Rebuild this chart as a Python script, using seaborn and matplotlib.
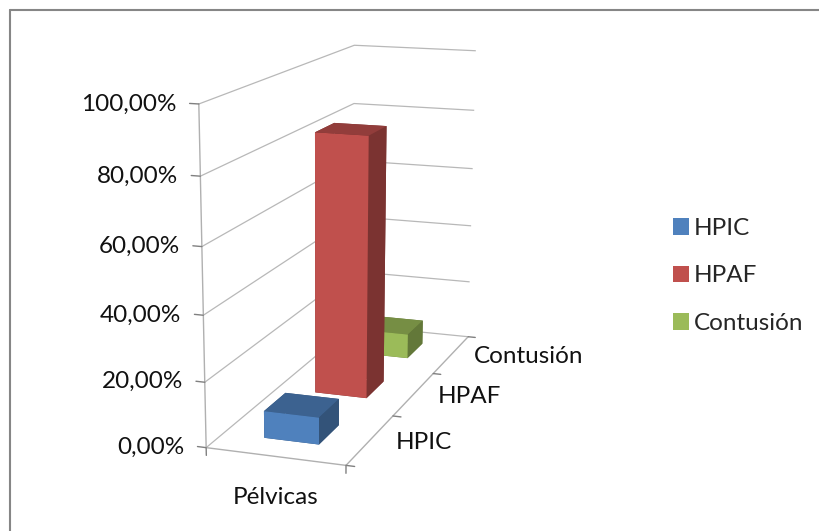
import numpy as np
import matplotlib
matplotlib.use("Agg")
import matplotlib.pyplot as plt
from matplotlib.lines import Line2D
from matplotlib.patches import Patch
from mpl_toolkits.mplot3d import Axes3D  # noqa: F401
import seaborn as sns

# Data
categories = ["Pélvicas"]
series = ["HPIC", "HPAF", "Contusión"]
values = [8.33, 83.33, 8.33]
value_ticks = [0, 20, 40, 60, 80, 100]
value_labels = ["0,00%", "20,00%", "40,00%", "60,00%", "80,00%", "100,00%"]

W, H = 820, 531
BAR_WIDTH = 0.4  # share of a category cell, on both floor directions
FONT = 17.5

sns.set_theme(style="white")
plt.rcParams["font.family"] = ["Lato", "DejaVu Sans"]
palette = sns.color_palette(["#4F81BD", "#C0504D", "#9BBB59"])


def shaded(color, factor):
    return tuple(c * factor for c in color)


# Camera: pixel positions of the chart box corners (x cell, depth cell, value)
frame = [
    ((0, 0, 0), (206, 447)),
    ((0, 0, 100), (199, 104)),
    ((0, 3, 0), (353, 326)),
    ((0, 3, 100), (354, 45)),
    ((1, 3, 0), (468, 336)),
    ((1, 3, 100), (476, 51)),
    ((1, 0, 0), (346, 466)),
]
rows = []
for (x, y, z), (u, v) in frame:
    v = H - v
    p = [x, y, z, 1]
    rows.append(p + [0, 0, 0, 0] + [-u * c for c in p])
    rows.append([0, 0, 0, 0] + p + [-v * c for c in p])
scale = np.diag([1, 1 / 3, 1 / 100, 1] * 3)
_, _, vt = np.linalg.svd(np.array(rows, float) @ scale)
camera = (scale @ vt[-1]).reshape(3, 4)
if camera[2] @ np.array([0.5, 1.5, 50, 1]) < 0:
    camera = -camera
projection = np.vstack([camera[0], camera[1], [0, 0, 0, -1], camera[2]])

fig = plt.figure(figsize=(W / 100, H / 100), dpi=100, facecolor="white")

# Chart outline: only the top and left edges fall inside the canvas
for xs, ys in (([10, W], [10, 10]), ([10, 10], [10, H])):
    fig.add_artist(Line2D([v / W for v in xs], [1 - v / H for v in ys],
                          transform=fig.transFigure, color="#868686", linewidth=1.5))

ax = fig.add_axes([0, 0, 1, 1], projection="3d")
ax.patch.set_alpha(0)
ax.get_proj = lambda: projection
ax.apply_aspect = lambda position=None: None

# One bar per series, each in its own depth cell
xpos = [0.5 - BAR_WIDTH / 2] * len(series)
ypos = [i + 0.5 - BAR_WIDTH / 2 for i in range(len(series))]
face_colors = []
for c in palette:
    top, side = shaded(c, 0.76), shaded(c, 0.64)
    # order used by bar3d: bottom, top, front, back, left, right
    face_colors += [side, top, c, side, side, side]
ax.bar3d(xpos, ypos, [0] * len(series), BAR_WIDTH, BAR_WIDTH, values,
         color=face_colors, shade=False, linewidth=0)

ax.set_xlim(0, 1)
ax.set_ylim(0, 3)
ax.set_zlim(0, 100)
ax.viewLim.intervalx = (0, W)
ax.viewLim.intervaly = (0, H)

# Axes and ticks
ax.set_xticks([0.5], categories)
ax.set_xticks([0, 1], minor=True)
ax.set_yticks([0.5, 1.5, 2.5], series)
ax.set_yticks([0, 1, 2, 3], minor=True)
ax.set_zticks(value_ticks, value_labels)
ax.zaxis.set_ticks_position("lower")

# Tick directions and label offsets: x down, y and z sideways only
ax.xaxis._get_tickdir = lambda position: 2
ax.zaxis._get_tickdir = lambda position: 0
ax.xaxis._axmask = lambda: [False, False, True]
ax.yaxis._axmask = lambda: [True, False, False]
ax.zaxis._axmask = lambda: [True, False, False]

for axis in (ax.xaxis, ax.yaxis, ax.zaxis):
    axis.set_pane_color((1, 1, 1, 0))
    axis.pane.set_edgecolor((1, 1, 1, 0))
    axis.line.set_color("#B0B0B0")
    axis.line.set_linewidth(1.0)
    axis._axinfo["tick"]["inward_factor"] = 0
    axis._axinfo["tick"]["linewidth"] = {True: 1.0, False: 1.0}
ax.xaxis._axinfo["tick"]["outward_factor"] = 0.3
ax.yaxis._axinfo["tick"]["outward_factor"] = -0.75
ax.zaxis._axinfo["tick"]["outward_factor"] = 0.8

ax.xaxis._axinfo["grid"]["linewidth"] = 0
ax.yaxis._axinfo["grid"]["linewidth"] = 0
ax.zaxis._axinfo["grid"].update(color="#B8B8B8", linewidth=0.9, linestyle="-")

ax.tick_params(which="both", color="#808080", labelsize=FONT, labelcolor="#111111")
ax.tick_params(axis="x", which="major", color=(0, 0, 0, 0), pad=16)
ax.tick_params(axis="y", which="major", color=(0, 0, 0, 0), pad=38)
ax.tick_params(axis="z", pad=32)
for t in ax.zaxis.get_ticklabels():
    t.set_ha("right")
    t.set_va("center_baseline")
for t in ax.yaxis.get_ticklabels():
    t.set_ha("left")
    t.set_va("center")

handles = [Patch(facecolor=c, edgecolor="none") for c in palette]
ax.legend(handles, series, loc="center left", bbox_to_anchor=(673 / W, 1 - 276 / H),
          bbox_transform=fig.transFigure, frameon=False, fontsize=FONT,
          handlelength=0.65, handleheight=0.65, handletextpad=0.22,
          labelspacing=1.09, borderpad=0, borderaxespad=0)

fig.savefig("out.png", dpi=100)
